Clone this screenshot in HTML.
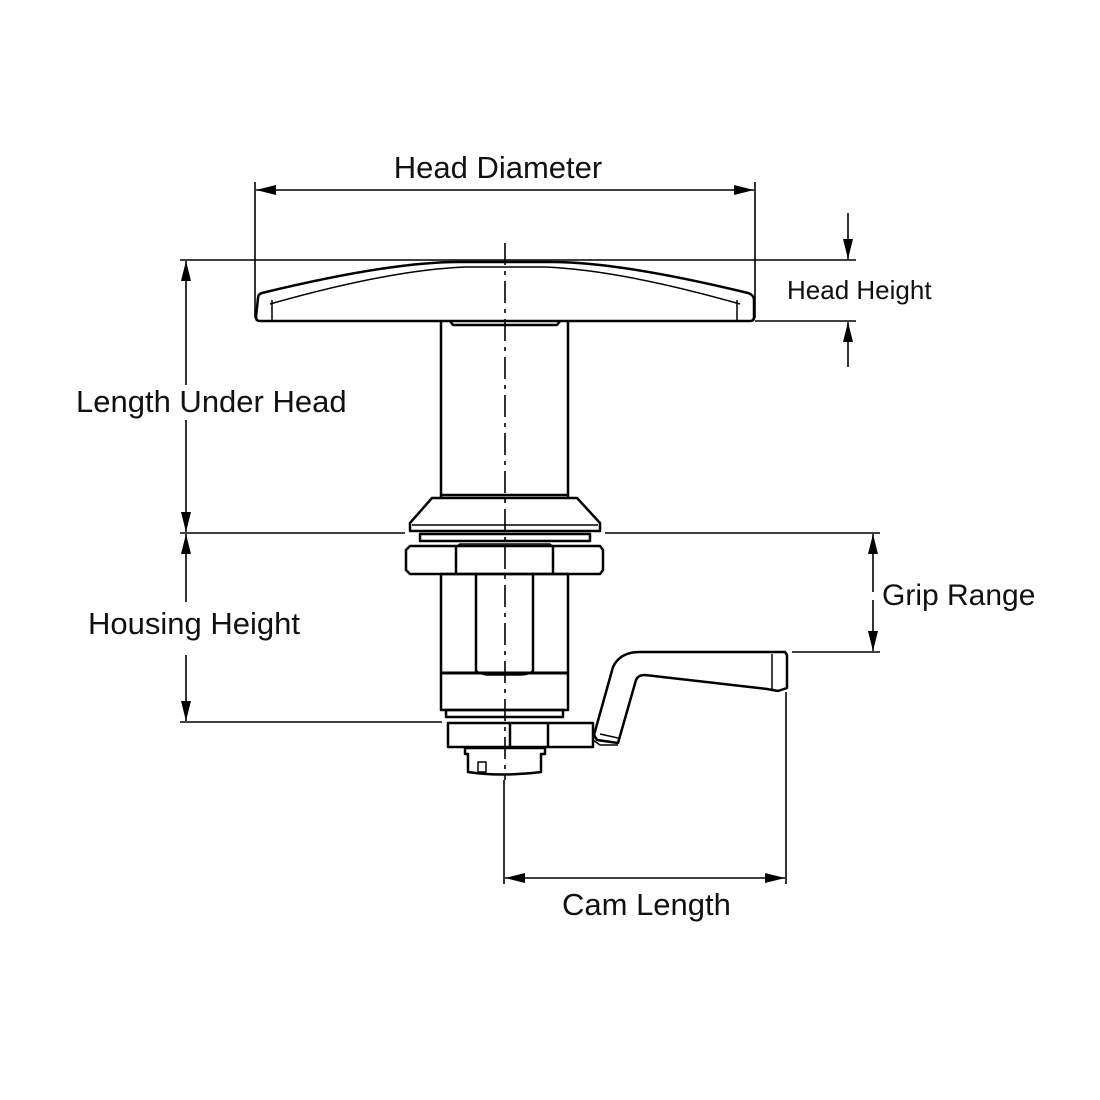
<!DOCTYPE html>
<html><head><meta charset="utf-8"><style>
html,body{margin:0;padding:0;background:#fff}
svg{display:block}
.t{font-family:"Liberation Sans",sans-serif;fill:#111}
</style></head><body>
<svg width="1100" height="1100" viewBox="0 0 1100 1100" xmlns="http://www.w3.org/2000/svg">
<defs>
<marker id="a" viewBox="0 0 20 10" refX="20" refY="5" markerWidth="20" markerHeight="10" markerUnits="userSpaceOnUse" orient="auto-start-reverse"><path d="M0,0 L20,5 L0,10 z" fill="#000"/></marker>
</defs>
<g stroke="#000" fill="none">
<g stroke-width="1.6">
<line x1="255" y1="182" x2="255" y2="318"/>
<line x1="755" y1="182" x2="755" y2="318"/>
<line x1="256" y1="190" x2="754" y2="190" marker-start="url(#a)" marker-end="url(#a)"/>
<line x1="180" y1="260" x2="856" y2="260"/>
<line x1="755" y1="321" x2="856" y2="321"/>
<line x1="848" y1="213" x2="848" y2="259" marker-end="url(#a)"/>
<line x1="848" y1="367" x2="848" y2="322" marker-end="url(#a)"/>
<line x1="186" y1="385" x2="186" y2="261" marker-end="url(#a)"/>
<line x1="186" y1="420" x2="186" y2="532" marker-end="url(#a)"/>
<line x1="180" y1="533" x2="405" y2="533"/>
<line x1="605" y1="533" x2="880" y2="533"/>
<line x1="186" y1="602" x2="186" y2="534" marker-end="url(#a)"/>
<line x1="186" y1="655" x2="186" y2="721" marker-end="url(#a)"/>
<line x1="180" y1="722" x2="442" y2="722"/>
<line x1="873" y1="592" x2="873" y2="534" marker-end="url(#a)"/>
<line x1="873" y1="600" x2="873" y2="651" marker-end="url(#a)"/>
<line x1="792" y1="652" x2="880" y2="652"/>
<line x1="786" y1="692" x2="786" y2="884"/>
<line x1="504" y1="780" x2="504" y2="884"/>
<line x1="505" y1="878" x2="785" y2="878" marker-start="url(#a)" marker-end="url(#a)"/>
<line x1="505" y1="243" x2="505" y2="780" stroke-dasharray="22,6,4,6"/>
</g>
<g stroke-width="2.5" stroke-linejoin="round">
<path d="M258,298 Q258,294 262,293 Q390,262 458,262 L552,262 Q620,262 748,293 Q754,295 754,300 L754,317 Q754,321 750,321 L260,321 Q256,321 256,317 Z"/>
<path d="M270,304 Q390,270 465,267 L545,267 Q620,270 740,304" stroke-width="1.5"/>
<line x1="272" y1="300" x2="272" y2="321" stroke-width="1.5"/>
<line x1="737" y1="300" x2="737" y2="321" stroke-width="1.5"/>
<path d="M450,321 L453,325 L557,325 L560,321"/>
<line x1="441" y1="321" x2="441" y2="497"/>
<line x1="568" y1="321" x2="568" y2="497"/>
<line x1="441" y1="495" x2="568" y2="495"/>
<path d="M432,498 L577,498 L600,523 L600,531 L410,531 L410,523 Z"/>
<line x1="412" y1="525" x2="598" y2="525" stroke-width="1.5"/>
<rect x="420" y="534" width="170" height="7"/>
<path d="M410,546 L600,546 L603,550 L603,570 L600,574 L410,574 L406,570 L406,550 Z"/>
<line x1="456" y1="547" x2="456" y2="573"/>
<line x1="553" y1="547" x2="553" y2="573"/>
<path d="M456,547 L460,544 L550,544 L553,547" stroke-width="1.5"/>
<rect x="441" y="574" width="127" height="136"/>
<line x1="441" y1="673" x2="568" y2="673" stroke-width="3"/>
<line x1="476" y1="574" x2="476" y2="673"/>
<line x1="533" y1="574" x2="533" y2="673"/>
<path d="M476,670 Q480,675 490,675 L520,675 Q530,675 533,670" stroke-width="1.5"/>
<rect x="446" y="710" width="117" height="7"/>
<rect x="448" y="723" width="145" height="24"/>
<line x1="510" y1="723" x2="510" y2="747"/>
<line x1="548" y1="723" x2="548" y2="747"/>
<path d="M465,748 L545,748 L545,754 L541,754 L541,772 Q500,777 468,772 L468,754 L465,754 Z"/>
<rect x="478" y="762" width="8" height="10" stroke-width="1.5"/>
<path d="M594,735 L613,667 Q620,652 640,652 L785,652 L787,655 L787,688 L778,691 L767,689 L645,675 Q638,675 636,680 L618,743 L597,740 Z"/>
<line x1="600" y1="734" x2="618" y2="738" stroke-width="1.5"/>
<line x1="772" y1="654" x2="772" y2="689" stroke-width="1.5"/>
<path d="M593,740 L600,745 L618,745" stroke-width="1.5"/>
</g>
</g>
<text class="t" x="498" y="178" font-size="31" text-anchor="middle">Head Diameter</text>
<text class="t" x="787" y="299" font-size="26">Head Height</text>
<text class="t" x="76" y="412" font-size="31">Length Under Head</text>
<text class="t" x="88" y="634" font-size="31">Housing Height</text>
<text class="t" x="882" y="605" font-size="30">Grip Range</text>
<text class="t" x="562" y="915" font-size="31">Cam Length</text>
</svg>
</body></html>
